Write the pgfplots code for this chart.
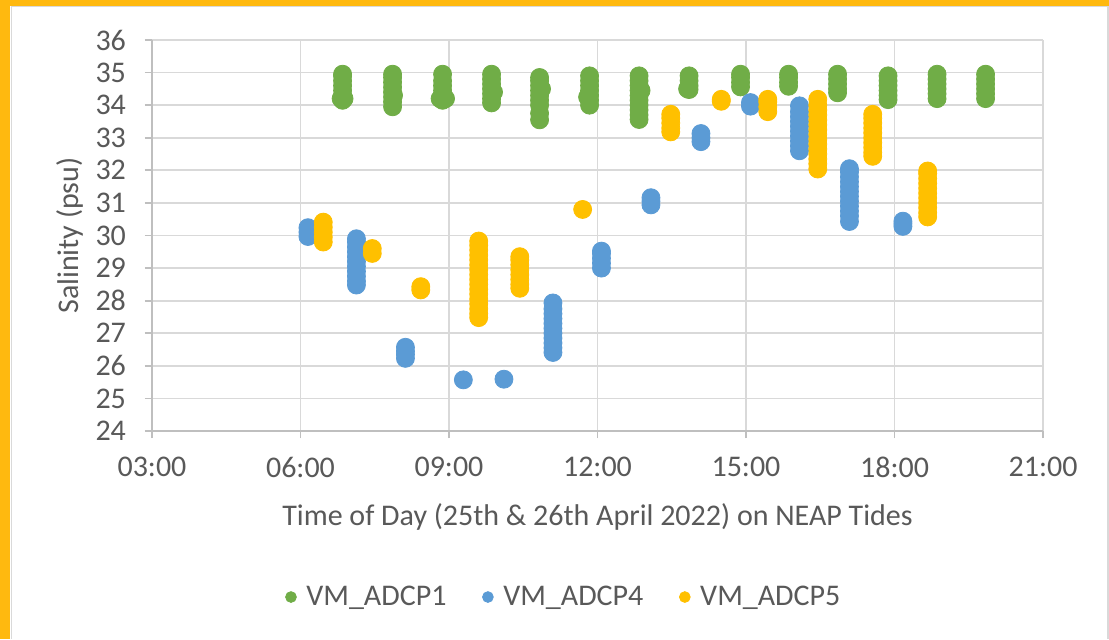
\documentclass[border=0pt]{standalone}
\usepackage{pgfplots}
\pgfplotsset{compat=1.18}
\usepackage{fontspec}
\setmainfont{Carlito}
\definecolor{txtgrey}{HTML}{595959}
\definecolor{gridgrey}{HTML}{D9D9D9}
\definecolor{axgrey}{HTML}{BFBFBF}
\definecolor{cgreen}{HTML}{70AD47}
\definecolor{cblue}{HTML}{5B9BD5}
\definecolor{cyellow}{HTML}{FFC000}
\definecolor{frameor}{RGB}{255,185,15}
\begin{document}
\begin{tikzpicture}
\path[use as bounding box] (0,0) rectangle (554.5pt,319.5pt);
\fill[white] (0,0) rectangle (554.5pt,319.5pt);
\fill[frameor] (0,0) rectangle (5pt,319.5pt);
\fill[frameor] (0,316.5pt) rectangle (554.5pt,319.5pt);
\draw[gridgrey,line width=0.6pt] (5.6pt,0) -- (5.6pt,316.2pt) -- (554pt,316.2pt) -- (554pt,0);
\begin{axis}[
  at={(76pt,104pt)}, anchor=south west,
  scale only axis, width=445.5pt, height=195.5pt,
  xmin=3, xmax=21, ymin=24, ymax=36,
  xtick={3,6,9,12,15,18,21},
  xticklabels={03:00,06:00,09:00,12:00,15:00,18:00,21:00},
  ytick={24,25,...,36},
  axis x line*=bottom, axis y line*=left,
  axis line style={axgrey, line width=0.9pt, -},
  grid=major, major grid style={gridgrey, line width=0.9pt},
  tick align=outside, major tick length=3.5pt,
  tick style={axgrey, line width=0.9pt},
  /pgf/number format/assume math mode=true,
  tick label style={font=\fontsize{15}{17}\selectfont, text=txtgrey},
  yticklabel style={xshift=-6pt},
  xticklabel style={yshift=-6pt},
  xlabel={Time of Day (25th \& 26th April 2022) on NEAP Tides},
  ylabel={Salinity (psu)},
  label style={font=\fontsize{15}{17}\selectfont, text=txtgrey},
  xlabel style={at={(axis description cs:0.5,-0.22)}, anchor=center},
  ylabel style={at={(axis description cs:-0.092,0.5)}, anchor=center},
  legend style={at={(axis description cs:0.4635,-0.4246)}, anchor=center, draw=none, fill=none,
    font=\fontsize{15}{17}\selectfont, text=txtgrey, legend columns=3,
    /tikz/every even column/.append style={column sep=16pt},
    /tikz/every odd column/.append style={column sep=3pt}},
  legend image post style={mark size=2.7pt},
  clip=false,
]
\addplot[only marks, mark=*, mark size=4.5pt, mark options={fill=cgreen, draw=cgreen}] coordinates {
(6.85,34.15)(6.85,34.3)(6.85,34.45)(6.85,34.6)(6.85,34.75)(6.85,34.9)(6.85,34.95)(6.82,34.2)(6.88,34.2)
(7.86,33.95)(7.86,34.1)(7.86,34.25)(7.86,34.4)(7.86,34.55)(7.86,34.7)(7.86,34.85)(7.86,34.95)(7.88,34.3)
(8.87,34.15)(8.87,34.3)(8.87,34.45)(8.87,34.6)(8.87,34.75)(8.87,34.95)(8.93,34.2)(8.82,34.2)
(9.86,34.07)(9.86,34.2)(9.86,34.35)(9.86,34.5)(9.86,34.65)(9.86,34.8)(9.86,34.95)(9.9,34.4)
(10.83,33.55)(10.83,33.75)(10.83,34.0)(10.83,34.15)(10.83,34.3)(10.83,34.45)(10.83,34.6)(10.83,34.75)(10.83,34.85)(10.87,34.5)
(11.84,34.0)(11.84,34.15)(11.84,34.3)(11.84,34.45)(11.84,34.6)(11.84,34.75)(11.84,34.9)(11.8,34.25)
(12.84,33.56)(12.84,33.7)(12.84,33.85)(12.84,34.0)(12.84,34.15)(12.84,34.3)(12.84,34.45)(12.84,34.6)(12.84,34.75)(12.84,34.9)(12.88,34.45)
(13.85,34.48)(13.85,34.6)(13.85,34.75)(13.85,34.9)(13.82,34.5)
(14.89,34.56)(14.89,34.7)(14.89,34.85)(14.89,34.95)
(15.86,34.58)(15.86,34.7)(15.86,34.85)(15.86,34.95)
(16.85,34.38)(16.85,34.5)(16.85,34.65)(16.85,34.8)(16.85,34.95)
(17.87,34.17)(17.87,34.3)(17.87,34.45)(17.87,34.6)(17.87,34.75)(17.87,34.9)
(18.86,34.2)(18.86,34.35)(18.86,34.5)(18.86,34.65)(18.86,34.8)(18.86,34.95)
(19.84,34.2)(19.84,34.35)(19.84,34.5)(19.84,34.65)(19.84,34.8)(19.84,34.95)
};
\addlegendentry{VM\_ADCP1}
\addplot[only marks, mark=*, mark size=4.5pt, mark options={fill=cblue, draw=cblue}] coordinates {
(6.15,29.97)(6.15,30.1)(6.15,30.24)
(7.13,28.48)(7.13,28.6)(7.13,28.75)(7.13,28.9)(7.13,29.05)(7.13,29.2)(7.13,29.35)(7.13,29.5)(7.13,29.65)(7.13,29.8)(7.13,29.9)
(8.12,26.23)(8.12,26.35)(8.12,26.45)(8.12,26.57)
(9.29,25.57)
(10.11,25.59)
(11.10,26.41)(11.10,26.55)(11.10,26.7)(11.10,26.85)(11.10,27.0)(11.10,27.15)(11.10,27.3)(11.10,27.45)(11.10,27.6)(11.10,27.75)(11.10,27.93)
(12.08,29.0)(12.08,29.15)(12.08,29.3)(12.08,29.45)(12.08,29.52)
(13.08,30.94)(13.08,31.05)(13.08,31.16)
(14.09,32.88)(14.09,33.0)(14.09,33.13)
(15.09,33.97)(15.09,34.08)
(16.08,32.6)(16.08,32.75)(16.08,32.9)(16.08,33.05)(16.08,33.2)(16.08,33.35)(16.08,33.5)(16.08,33.65)(16.08,33.8)(16.08,33.98)
(17.09,30.43)(17.09,30.6)(17.09,30.75)(17.09,30.9)(17.09,31.05)(17.09,31.2)(17.09,31.35)(17.09,31.5)(17.09,31.65)(17.09,31.8)(17.09,31.95)(17.09,32.05)
(18.17,30.28)(18.17,30.36)(18.17,30.44)
};
\addlegendentry{VM\_ADCP4}
\addplot[only marks, mark=*, mark size=4.5pt, mark options={fill=cyellow, draw=cyellow}] coordinates {
(6.46,29.8)(6.46,29.95)(6.46,30.1)(6.46,30.25)(6.46,30.41)
(7.45,29.45)(7.45,29.6)
(8.43,28.33)(8.43,28.43)
(9.60,27.48)(9.60,27.6)(9.60,27.75)(9.60,27.9)(9.60,28.05)(9.60,28.2)(9.60,28.35)(9.60,28.5)(9.60,28.65)(9.60,28.8)(9.60,28.95)(9.60,29.1)(9.60,29.25)(9.60,29.4)(9.60,29.55)(9.60,29.7)(9.60,29.83)
(10.43,28.38)(10.43,28.5)(10.43,28.65)(10.43,28.8)(10.43,28.95)(10.43,29.1)(10.43,29.25)(10.43,29.35)
(11.70,30.8)
(13.48,33.18)(13.48,33.3)(13.48,33.45)(13.48,33.6)(13.48,33.72)
(14.50,34.12)(14.50,34.18)
(15.44,33.8)(15.44,33.95)(15.44,34.1)(15.44,34.18)
(16.45,32.04)(16.45,32.2)(16.45,32.35)(16.45,32.5)(16.45,32.65)(16.45,32.8)(16.45,32.95)(16.45,33.1)(16.45,33.25)(16.45,33.4)(16.45,33.55)(16.45,33.7)(16.45,33.85)(16.45,34.0)(16.45,34.18)
(17.56,32.43)(17.56,32.55)(17.56,32.7)(17.56,32.85)(17.56,33.0)(17.56,33.15)(17.56,33.3)(17.56,33.45)(17.56,33.6)(17.56,33.72)
(18.67,30.57)(18.67,30.7)(18.67,30.85)(18.67,31.0)(18.67,31.15)(18.67,31.3)(18.67,31.45)(18.67,31.6)(18.67,31.75)(18.67,31.9)(18.67,31.98)
};
\addlegendentry{VM\_ADCP5}
\end{axis}
\end{tikzpicture}
\end{document}
